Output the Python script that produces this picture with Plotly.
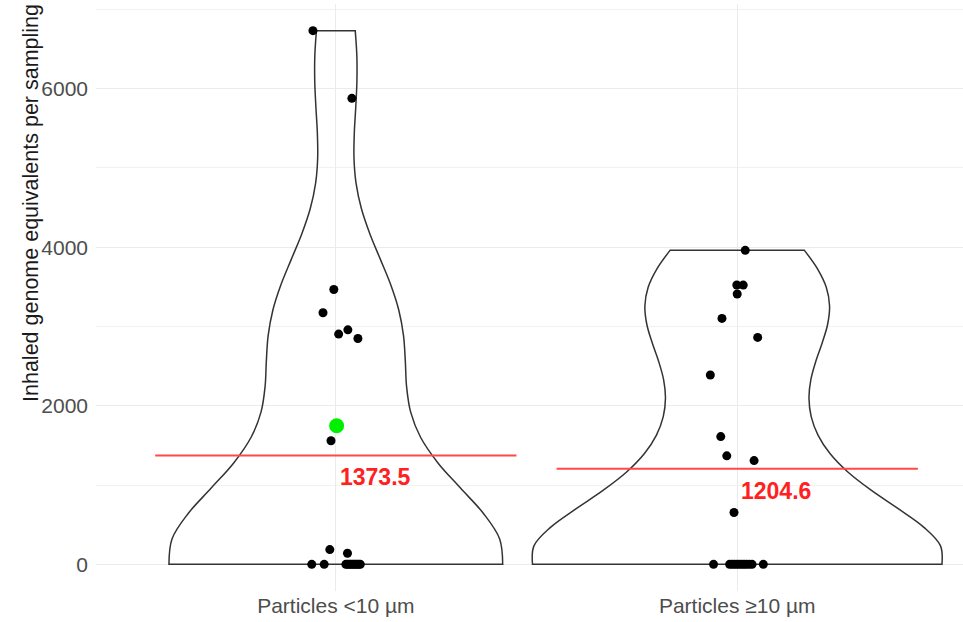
import numpy as np
import plotly.graph_objects as go

# Inhaled genome equivalents per sampling, one list per particle-size fraction
categories = ["Particles &lt;10 µm", "Particles ≥10 µm"]

fine_values = [6731, 5878, 3466, 3173, 2958, 2904, 2849, 1748, 1559, 186, 139,
               0, 0, 0, 0, 0, 0, 0, 0, 0, 0, 0, 0]
fine_jitter = [-0.057, 0.040, -0.005, -0.032, 0.030, 0.007, 0.055, 0.002, -0.012, -0.015, 0.029,
               -0.060, -0.029, 0.025, 0.029, 0.033, 0.037, 0.041, 0.045, 0.049, 0.053, 0.057, 0.061]
fine_highlight = 7  # sample drawn in green

coarse_values = [3960, 3523, 3522, 3409, 3102, 2862, 2388, 1611, 1368, 1308, 653,
                 0, 0, 0, 0, 0, 0, 0, 0, 0, 0, 0, 0]
coarse_jitter = [0.020, -0.001, 0.015, 0.000, -0.038, 0.051, -0.067, -0.041, -0.026, 0.042, -0.008,
                 -0.059, -0.019, -0.013, -0.007, -0.001, 0.005, 0.011, 0.017, 0.023, 0.030, 0.037, 0.065]

groups = [(fine_values, fine_jitter), (coarse_values, coarse_jitter)]

FONT = "Arial, Liberation Sans, sans-serif"
VIOLIN_WIDTH = 1.02
MEAN_HALF_WIDTH = 0.45


def bw_nrd0(v):
    """Silverman's rule of thumb as used by R's density()."""
    v = np.asarray(v, dtype=float)
    sd = v.std(ddof=1)
    q75, q25 = np.percentile(v, [75, 25])
    return 0.9 * min(sd, (q75 - q25) / 1.34) * len(v) ** -0.2


def kde_peak(v, bw):
    """Highest Gaussian KDE value over the data range."""
    v = np.asarray(v, dtype=float)
    grid = np.linspace(v.min(), v.max(), 512)
    z = (grid[:, None] - v[None, :]) / bw
    dens = np.exp(-0.5 * z ** 2).sum(axis=1) / (len(v) * bw * np.sqrt(2 * np.pi))
    return dens.max()


bandwidths = [bw_nrd0(v) for v, _ in groups]
peaks = [kde_peak(v, bw) for (v, _), bw in zip(groups, bandwidths)]
# area scaling: the violin with the densest peak gets the full width
widths = [VIOLIN_WIDTH * p / max(peaks) for p in peaks]

fig = go.Figure()

for i, (vals, jit) in enumerate(groups):
    pos = i + 1
    fig.add_trace(go.Violin(
        x0=pos, y=vals, orientation="v", width=widths[i],
        spanmode="hard", bandwidth=bandwidths[i],
        scalemode="width",
        line=dict(color="#333333", width=1.5), fillcolor="rgba(0,0,0,0)",
        points=False, box_visible=False, meanline_visible=False,
        hoverinfo="skip", showlegend=False,
    ))

for i, (vals, jit) in enumerate(groups):
    pos = i + 1
    xs = [pos + j for j in jit]
    idx = [k for k in range(len(vals)) if not (i == 0 and k == fine_highlight)]
    fig.add_trace(go.Scatter(
        x=[xs[k] for k in idx], y=[vals[k] for k in idx], mode="markers",
        marker=dict(color="black", size=9, line=dict(width=0)),
        showlegend=False, hoverinfo="y",
    ))
    if i == 0:
        fig.add_trace(go.Scatter(
            x=[xs[fine_highlight]], y=[vals[fine_highlight]], mode="markers",
            marker=dict(color="#00F000", size=15, line=dict(width=0)),
            showlegend=False, hoverinfo="y",
        ))

for i, (vals, jit) in enumerate(groups):
    pos = i + 1
    m = float(np.mean(vals))
    fig.add_trace(go.Scatter(
        x=[pos - MEAN_HALF_WIDTH, pos + MEAN_HALF_WIDTH], y=[m, m], mode="lines",
        line=dict(color="#FF4848", width=2), showlegend=False, hoverinfo="skip",
    ))
    fig.add_annotation(
        x=pos, y=m, text=f"{m:.1f}", showarrow=False,
        xanchor="left", yanchor="middle", xshift=2, yshift=-22,
        font=dict(family=FONT, size=23, color="#FF2020", weight="bold"),
    )

all_vals = fine_values + coarse_values
span = max(all_vals) - min(all_vals)
y_range = [min(all_vals) - 0.05 * span, max(all_vals) + 0.05 * span]

fig.add_annotation(
    text="Inhaled genome equivalents per sampling", textangle=-90,
    xref="paper", yref="paper", x=0, y=0.661, xanchor="center", yanchor="middle",
    xshift=-65, showarrow=False,
    font=dict(family=FONT, size=21.5, color="#1A1A1A"),
)

fig.update_layout(
    width=963, height=622,
    margin=dict(l=96, r=0, t=4, b=31),
    paper_bgcolor="white", plot_bgcolor="white",
    violinmode="overlay",
    font=dict(family=FONT),
    xaxis=dict(
        type="linear", range=[0.4025, 2.5625],
        tickmode="array", tickvals=[1, 2], ticktext=categories,
        showgrid=True, gridcolor="#EBEBEB", gridwidth=1.2,
        zeroline=False, showline=False, ticks="",
        tickfont=dict(size=21, color="#4D4D4D", family=FONT),
    ),
    yaxis=dict(
        range=y_range, tick0=0, dtick=2000,
        showgrid=True, gridcolor="#EBEBEB", gridwidth=1.2,
        minor=dict(dtick=1000, showgrid=True, gridcolor="#F1F1F1", gridwidth=1.2),
        zeroline=False, showline=False, ticks="", ticklabelstandoff=7,
        tickfont=dict(size=21, color="#4D4D4D", family=FONT),
    ),
)

fig.write_html("out.html")
